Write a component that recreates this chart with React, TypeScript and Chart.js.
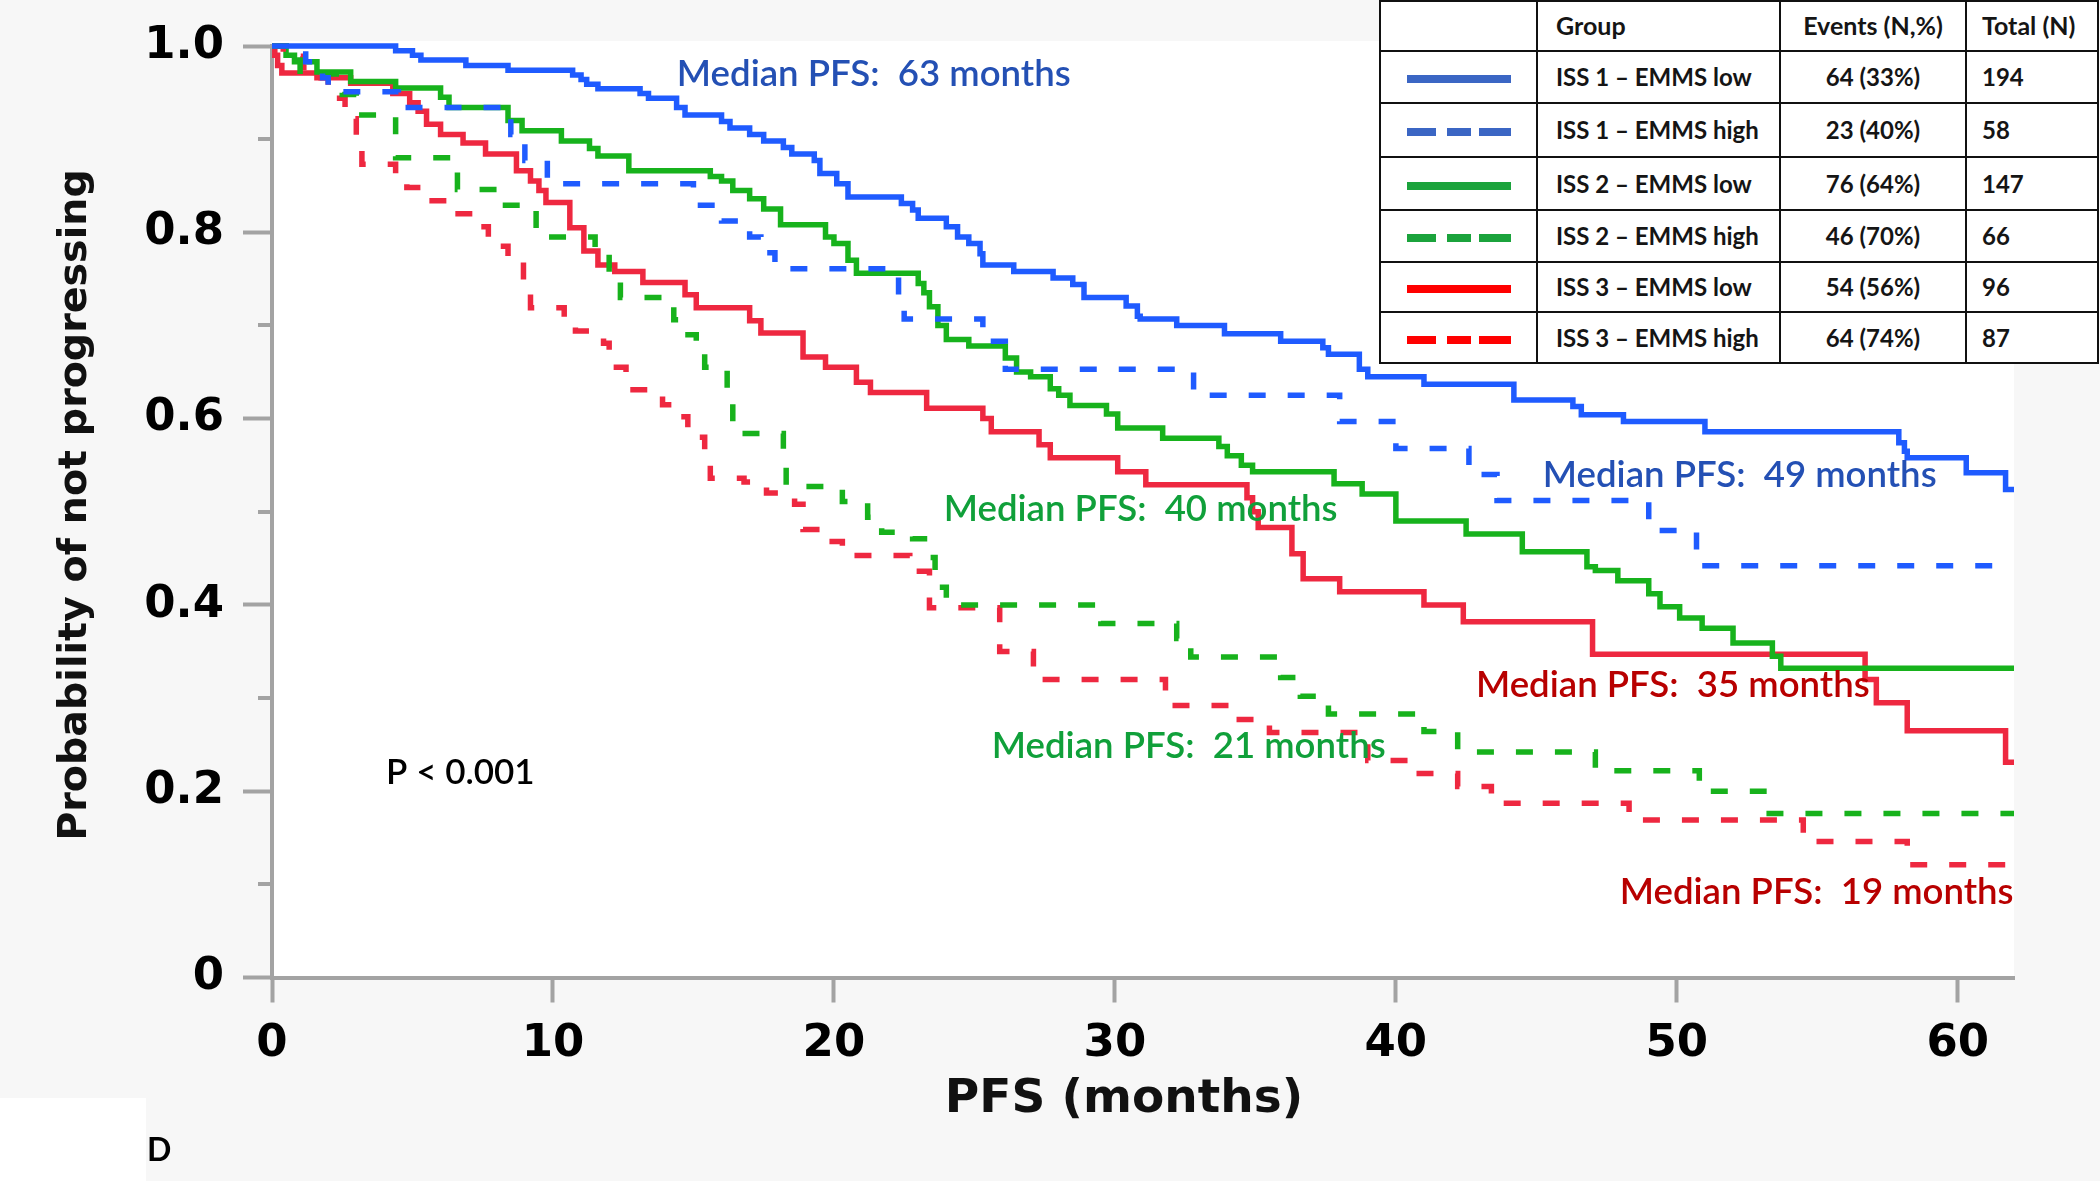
import React, { useEffect, useRef } from 'react';
import { Chart, registerables } from 'chart.js';

Chart.register(...registerables);

// ---------------- data ----------------
const xTickValues = [0, 10, 20, 30, 40, 50, 60];
const yTickValues = [0, 0.2, 0.4, 0.6, 0.8, 1.0];
const yTickLabels = ['0', '0.2', '0.4', '0.6', '0.8', '1.0'];
const yMinorTickValues = [0.1, 0.3, 0.5, 0.7, 0.9];

const xAxisTitle = 'PFS (months)';
const yAxisTitle = 'Probability of not progressing';

const groupNames = [
  'ISS 1 – EMMS low',
  'ISS 1 – EMMS high',
  'ISS 2 – EMMS low',
  'ISS 2 – EMMS high',
  'ISS 3 – EMMS low',
  'ISS 3 – EMMS high',
];
const groupEvents = ['64 (33%)', '23 (40%)', '76 (64%)', '46 (70%)', '54 (56%)', '64 (74%)'];
const groupTotals = ['194', '58', '147', '66', '96', '87'];

// ISS 1 – EMMS low (months, survival)
const iss1LowTime = [0, 4.4, 5.0, 5.3, 6.9, 8.4, 10.7, 11.0, 11.2, 11.6, 13.1, 13.4, 14.4, 14.7, 16.0, 16.3, 17.0, 17.5, 18.2, 18.5, 19.3, 19.5, 20.1, 20.5, 22.4, 22.8, 23.0, 24.0, 24.4, 24.8, 25.2, 25.3, 26.4, 27.8, 28.5, 28.9, 30.4, 30.8, 30.9, 32.2, 33.9, 35.9, 37.4, 37.6, 38.7, 39.0, 41.0, 44.2, 46.3, 46.6, 48.1, 51.0, 57.9, 58.1, 58.2, 60.3, 61.7, 62];
const iss1LowSurv = [1.0, 0.995, 0.990, 0.985, 0.979, 0.974, 0.969, 0.964, 0.959, 0.954, 0.949, 0.944, 0.934, 0.926, 0.919, 0.912, 0.905, 0.898, 0.891, 0.884, 0.877, 0.863, 0.852, 0.838, 0.831, 0.824, 0.815, 0.806, 0.795, 0.788, 0.777, 0.765, 0.758, 0.751, 0.744, 0.730, 0.721, 0.710, 0.707, 0.700, 0.691, 0.683, 0.676, 0.669, 0.653, 0.645, 0.637, 0.620, 0.613, 0.604, 0.597, 0.586, 0.574, 0.565, 0.558, 0.542, 0.524, 0.524];

// ISS 1 – EMMS high
const iss1HighTime = [0, 1.2, 1.8, 2.0, 4.5, 8.5, 9.0, 9.8, 15.0, 16.0, 17.0, 17.4, 17.9, 22.3, 22.5, 25.3, 26.1, 32.8, 38.0, 40.0, 42.6, 43.6, 49.0, 50.7, 62];
const iss1HighSurv = [1.0, 0.983, 0.966, 0.951, 0.934, 0.905, 0.877, 0.852, 0.829, 0.812, 0.795, 0.778, 0.761, 0.731, 0.707, 0.683, 0.653, 0.625, 0.597, 0.568, 0.540, 0.512, 0.480, 0.442, 0.442];

// ISS 2 – EMMS low
const iss2LowTime = [0, 0.5, 0.8, 1.6, 2.8, 4.4, 6.0, 6.3, 8.4, 8.9, 10.3, 11.3, 11.6, 12.7, 15.6, 16.0, 16.4, 17.0, 17.5, 18.1, 19.7, 20.0, 20.5, 20.8, 23.0, 23.2, 23.4, 23.7, 24.0, 24.8, 26.1, 26.5, 27.0, 27.7, 28.0, 28.4, 29.7, 30.1, 31.7, 33.7, 34.0, 34.5, 34.9, 37.8, 38.8, 40.0, 42.5, 44.5, 46.8, 47.1, 47.9, 49.0, 49.4, 50.1, 50.9, 52.0, 53.4, 53.7, 62];
const iss2LowSurv = [1.0, 0.990, 0.983, 0.972, 0.962, 0.955, 0.945, 0.934, 0.920, 0.909, 0.898, 0.890, 0.882, 0.866, 0.860, 0.855, 0.845, 0.836, 0.825, 0.808, 0.795, 0.788, 0.770, 0.756, 0.745, 0.735, 0.720, 0.700, 0.685, 0.678, 0.665, 0.650, 0.645, 0.632, 0.625, 0.614, 0.605, 0.590, 0.579, 0.570, 0.560, 0.550, 0.543, 0.530, 0.519, 0.490, 0.476, 0.457, 0.441, 0.437, 0.426, 0.412, 0.398, 0.386, 0.375, 0.359, 0.345, 0.332, 0.332];

// ISS 2 – EMMS high
const iss2HighTime = [0, 0.5, 1.0, 2.5, 3.0, 4.4, 6.6, 8.0, 9.4, 11.5, 12.0, 12.4, 14.3, 14.5, 15.1, 15.4, 16.2, 16.4, 18.2, 18.3, 20.3, 21.2, 21.7, 22.8, 23.4, 23.6, 24.0, 29.5, 32.2, 32.7, 35.9, 36.6, 37.6, 41.0, 42.2, 47.1, 50.8, 53.1, 62];
const iss2HighSurv = [1.0, 0.985, 0.970, 0.948, 0.926, 0.880, 0.846, 0.829, 0.795, 0.777, 0.750, 0.730, 0.706, 0.690, 0.675, 0.655, 0.620, 0.584, 0.555, 0.527, 0.511, 0.494, 0.478, 0.471, 0.451, 0.419, 0.400, 0.380, 0.364, 0.344, 0.322, 0.302, 0.283, 0.264, 0.242, 0.222, 0.200, 0.176, 0.176];

// ISS 3 – EMMS low
const iss3LowTime = [0, 0.1, 0.2, 0.35, 1.6, 2.8, 4.3, 4.9, 5.2, 5.5, 6.0, 6.8, 7.6, 8.7, 9.2, 9.5, 9.75, 10.6, 11.1, 11.6, 12.2, 13.2, 14.7, 15.1, 17.0, 17.4, 18.9, 19.7, 20.8, 21.3, 23.3, 25.3, 25.6, 27.3, 27.7, 30.1, 31.1, 34.7, 34.9, 35.1, 36.3, 36.7, 38.0, 41.0, 42.4, 47.0, 56.7, 57.1, 58.2, 61.7, 62];
const iss3LowSurv = [1.0, 0.990, 0.979, 0.971, 0.966, 0.960, 0.949, 0.939, 0.930, 0.916, 0.905, 0.896, 0.884, 0.866, 0.855, 0.845, 0.832, 0.805, 0.780, 0.765, 0.758, 0.746, 0.733, 0.719, 0.705, 0.692, 0.666, 0.655, 0.639, 0.628, 0.611, 0.600, 0.586, 0.572, 0.558, 0.543, 0.529, 0.515, 0.500, 0.483, 0.455, 0.428, 0.414, 0.400, 0.382, 0.347, 0.320, 0.295, 0.265, 0.231, 0.231];

// ISS 3 – EMMS high
const iss3HighTime = [0, 0.4, 1.1, 1.3, 2.0, 2.6, 3.0, 3.2, 4.4, 4.8, 5.6, 6.5, 7.3, 7.7, 8.4, 8.95, 9.2, 10.4, 10.8, 11.8, 12.0, 12.6, 13.9, 14.4, 14.8, 15.4, 15.6, 16.8, 17.6, 18.6, 18.9, 19.7, 20.3, 22.7, 23.4, 25.9, 27.1, 31.8, 34.1, 35.5, 39.0, 40.6, 42.2, 43.4, 48.3, 54.5, 58.2, 62];
const iss3HighSurv = [1.0, 0.989, 0.977, 0.966, 0.944, 0.922, 0.900, 0.873, 0.860, 0.848, 0.834, 0.820, 0.806, 0.785, 0.770, 0.745, 0.719, 0.705, 0.694, 0.681, 0.655, 0.631, 0.615, 0.602, 0.580, 0.560, 0.536, 0.532, 0.520, 0.508, 0.481, 0.468, 0.453, 0.436, 0.397, 0.350, 0.320, 0.292, 0.277, 0.263, 0.233, 0.219, 0.205, 0.187, 0.169, 0.146, 0.121, 0.121];

const medianTexts = [
  'Median PFS:  63 months',
  'Median PFS:  49 months',
  'Median PFS:  40 months',
  'Median PFS:  21 months',
  'Median PFS:  35 months',
  'Median PFS:  19 months',
];
const pValueText = 'P < 0.001';

// ---------------- styles ----------------
const BLUE = '#1f5bff';
const GREEN = '#17b21c';
const RED = '#ee2840';
const AXIS = '#a3a3a3';
const LABEL_BLUE = '#2450b4';
const LABEL_GREEN = '#10a03a';
const LABEL_RED = '#b80000';
const LEG_BLUE = '#3b66c4';
const LEG_GREEN = '#1ba33c';
const LEG_RED = '#ff0000';

const series = [
  { label: groupNames[1], t: iss1HighTime, s: iss1HighSurv, color: BLUE, dashed: true },
  { label: groupNames[3], t: iss2HighTime, s: iss2HighSurv, color: GREEN, dashed: true },
  { label: groupNames[5], t: iss3HighTime, s: iss3HighSurv, color: RED, dashed: true },
  { label: groupNames[0], t: iss1LowTime, s: iss1LowSurv, color: BLUE, dashed: false },
  { label: groupNames[2], t: iss2LowTime, s: iss2LowSurv, color: GREEN, dashed: false },
  { label: groupNames[4], t: iss3LowTime, s: iss3LowSurv, color: RED, dashed: false },
];

// annotation anchors (data coordinates: months, probability), left/middle aligned
const notes = [
  { text: medianTexts[0], x: 14.41, y: 0.970, color: LABEL_BLUE },
  { text: medianTexts[1], x: 45.23, y: 0.539, color: LABEL_BLUE },
  { text: medianTexts[2], x: 23.91, y: 0.503, color: LABEL_GREEN },
  { text: medianTexts[3], x: 25.62, y: 0.248, color: LABEL_GREEN },
  { text: medianTexts[4], x: 42.85, y: 0.314, color: LABEL_RED },
  { text: medianTexts[5], x: 47.97, y: 0.092, color: LABEL_RED },
];
const pNote = { text: pValueText, x: 4.06, y: 0.220, color: '#000' };

const NOTE_FONT = '600 36.6px Lato';
const P_FONT = '600 35px Lato';

const plotBgPlugin = {
  id: 'plotBg',
  beforeDraw(chart: any) {
    const { ctx, chartArea } = chart;
    ctx.save();
    ctx.fillStyle = '#ffffff';
    ctx.fillRect(chartArea.left, chartArea.top - 5, chartArea.right - chartArea.left, chartArea.bottom - chartArea.top + 5);
    ctx.restore();
  },
};

const minorTickPlugin = {
  id: 'minorTicks',
  afterDraw(chart: any) {
    const { ctx, scales } = chart;
    const y = scales.y;
    const left = chart.chartArea.left;
    ctx.save();
    ctx.strokeStyle = AXIS;
    ctx.lineWidth = 4;
    yMinorTickValues.forEach((v) => {
      const py = Math.round(y.getPixelForValue(v));
      ctx.beginPath();
      ctx.moveTo(left - 14, py);
      ctx.lineTo(left, py);
      ctx.stroke();
    });
    ctx.restore();
  },
};

// axis titles drawn at their measured centres (the reference titles are not centred on the plot)
const axisTitlePlugin = {
  id: 'axisTitles',
  afterDraw(chart: any) {
    const { ctx } = chart;
    ctx.save();
    ctx.fillStyle = '#111';
    ctx.textAlign = 'center';
    ctx.textBaseline = 'middle';
    ctx.font = 'bold 47px "DejaVu Sans"';
    ctx.fillText(xAxisTitle, 1124, 1100);
    ctx.translate(76, 505);
    ctx.rotate(-Math.PI / 2);
    ctx.font = 'bold 39.6px "DejaVu Sans"';
    ctx.fillText(yAxisTitle, 0, 0);
    ctx.restore();
  },
};

const notesPlugin = {
  id: 'notes',
  afterDatasetsDraw(chart: any) {
    const { ctx, scales } = chart;
    ctx.save();
    ctx.textAlign = 'left';
    ctx.textBaseline = 'middle';
    notes.forEach((n) => {
      ctx.font = NOTE_FONT;
      ctx.fillStyle = n.color;
      ctx.fillText(n.text, scales.x.getPixelForValue(n.x), scales.y.getPixelForValue(n.y));
    });
    ctx.font = P_FONT;
    ctx.fillStyle = pNote.color;
    ctx.fillText(pNote.text, scales.x.getPixelForValue(pNote.x), scales.y.getPixelForValue(pNote.y));
    ctx.restore();
  },
};

const tickFont = { family: 'DejaVu Sans', weight: 'bold' as const, size: 45 };

function Legend() {
  const cols = [1380, 1537, 1780, 1966, 2098];
  const rows = [0, 51, 103, 157, 210, 262, 312, 363];
  const legColors = [LEG_BLUE, LEG_BLUE, LEG_GREEN, LEG_GREEN, LEG_RED, LEG_RED];
  const legDashed = [false, true, false, true, false, true];
  const bodyFont = 'bold 24px Lato';
  const headFont = 'bold 25px Lato';
  const items: any[] = [];
  items.push(
    <div key="bg" style={{ position: 'absolute', left: cols[0], top: rows[0], width: cols[4] - cols[0], height: rows[7] - rows[0], background: '#fff' }} />
  );
  cols.forEach((cx, i) =>
    items.push(<div key={'v' + i} style={{ position: 'absolute', left: cx - 1, top: 0, width: 2, height: rows[7] + 1, background: '#111' }} />)
  );
  rows.forEach((ry, i) =>
    items.push(<div key={'h' + i} style={{ position: 'absolute', left: cols[0] - 1, top: Math.max(0, ry - 1), width: cols[4] - cols[0] + 2, height: 2, background: '#111' }} />)
  );
  const cell = (key: string, left: number, top: number, width: number, height: number, text: string, align: 'left' | 'center', font: string) => (
    <div key={key} style={{ position: 'absolute', left, top, width, height, display: 'flex', alignItems: 'center', justifyContent: align === 'center' ? 'center' : 'flex-start', font, color: '#151515', whiteSpace: 'pre', lineHeight: 1 }}>{text}</div>
  );
  items.push(cell('hg', 1556, rows[0], 220, rows[1] - rows[0], 'Group', 'left', headFont));
  items.push(cell('he', cols[2], rows[0], cols[3] - cols[2], rows[1] - rows[0], 'Events (N,%)', 'center', headFont));
  items.push(cell('ht', 1982, rows[0], 115, rows[1] - rows[0], 'Total (N)', 'left', headFont));
  groupNames.forEach((g, i) => {
    const top = rows[i + 1];
    const h = rows[i + 2] - rows[i + 1];
    items.push(cell('g' + i, 1556, top, 220, h, g, 'left', bodyFont));
    items.push(cell('e' + i, cols[2], top, cols[3] - cols[2], h, groupEvents[i], 'center', bodyFont));
    items.push(cell('t' + i, 1982, top, 110, h, groupTotals[i], 'left', bodyFont));
    const cy = top + h / 2 + 2;
    const segs = legDashed[i] ? [[1407, 29], [1447, 24], [1479, 32]] : [[1407, 104]];
    segs.forEach(([sx, sw], j) =>
      items.push(<div key={'l' + i + '_' + j} style={{ position: 'absolute', left: sx, top: cy - 4, width: sw, height: 8, background: legColors[i] }} />)
    );
  });
  return <>{items}</>;
}

export default function App() {
  const canvasRef = useRef<HTMLCanvasElement>(null);

  useEffect(() => {
    const canvas = canvasRef.current;
    if (!canvas) return;
    const chart = new Chart(canvas, {
      type: 'line',
      data: {
        datasets: series.map((d) => ({
          label: d.label,
          data: d.t.map((x, i) => ({ x, y: d.s[i] })),
          borderColor: d.color,
          backgroundColor: d.color,
          borderWidth: 5.5,
          borderDash: d.dashed ? [17, 22] : [],
          stepped: 'before' as const,
          pointRadius: 0,
          pointHoverRadius: 0,
          fill: false,
          tension: 0,
          clip: false as any,
        })),
      },
      options: {
        responsive: false,
        animation: false,
        events: [],
        layout: { padding: { left: 0, top: 37.5, right: 86, bottom: 0 } },
        plugins: { legend: { display: false }, tooltip: { enabled: false }, title: { display: false } },
        scales: {
          x: {
            type: 'linear',
            min: 0,
            max: 62,
            afterBuildTicks: (s: any) => {
              s.ticks = xTickValues.map((v) => ({ value: v }));
            },
            afterFit: (s: any) => {
              s.height = 1181 - 977.5;
            },
            ticks: {
              font: tickFont,
              color: '#000',
              padding: 15,
              maxRotation: 0,
              autoSkip: false,
              callback: (v: any) => String(v),
            },
            grid: { drawOnChartArea: false, drawTicks: true, tickLength: 25, tickColor: AXIS, tickWidth: 4 },
            border: { display: true, color: AXIS, width: 4 },
            title: { display: false, text: xAxisTitle },
          },
          y: {
            type: 'linear',
            min: 0,
            max: 1,
            afterBuildTicks: (s: any) => {
              s.ticks = yTickValues.map((v) => ({ value: v }));
            },
            afterFit: (s: any) => {
              s.width = 272;
            },
            ticks: {
              font: tickFont,
              color: '#000',
              padding: 19,
              autoSkip: false,
              callback: (v: any) => {
                const i = yTickValues.indexOf(v);
                return i >= 0 ? yTickLabels[i] : '';
              },
            },
            grid: { drawOnChartArea: false, drawTicks: true, tickLength: 29, tickColor: AXIS, tickWidth: 4 },
            border: { display: true, color: AXIS, width: 4 },
            title: { display: false, text: yAxisTitle },
          },
        },
      },
      plugins: [plotBgPlugin, minorTickPlugin, notesPlugin, axisTitlePlugin],
    } as any);
    return () => chart.destroy();
  }, []);

  return (
    <div style={{ position: 'absolute', left: 0, top: 0, width: 2100, height: 1181, background: '#f7f7f7', overflow: 'hidden' }}>
      <canvas ref={canvasRef} width={2100} height={1181} style={{ position: 'absolute', left: 0, top: 0, width: 2100, height: 1181 }} />
      <Legend />
      <div style={{ position: 'absolute', left: 0, top: 1098, width: 146, height: 83, background: '#fff' }} />
      <div style={{ position: 'absolute', left: 147, top: 1131, height: 36, display: 'flex', alignItems: 'center', font: 'bold 32px Lato', color: '#000', lineHeight: 1 }}>D</div>
    </div>
  );
}
